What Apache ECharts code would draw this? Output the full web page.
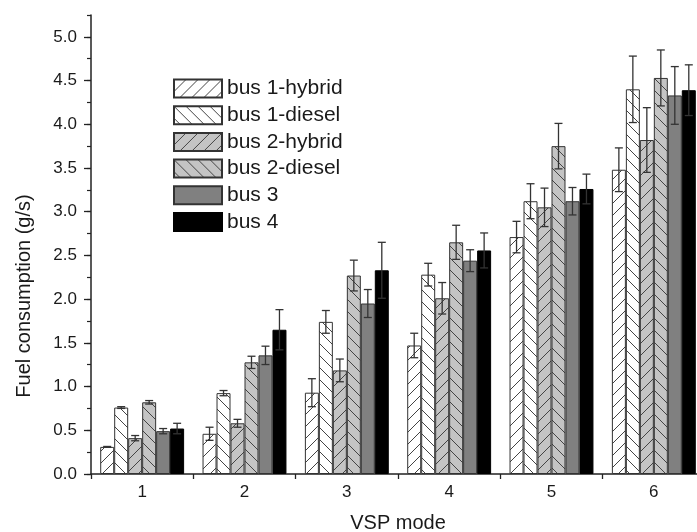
<!DOCTYPE html>
<html>
<head>
<meta charset="utf-8">
<script src="https://cdn.jsdelivr.net/npm/echarts@6/dist/echarts.min.js"></script>
<style>
  html, body { margin: 0; padding: 0; background: #fff; }
  #chart { width: 697px; height: 532px; }
</style>
</head>
<body>
<div id="chart"></div>
<script>
// 数据
var modes = ['1', '2', '3', '4', '5', '6'];
var seriesNames = ['bus 1-hybrid', 'bus 1-diesel', 'bus 2-hybrid', 'bus 2-diesel', 'bus 3', 'bus 4'];

var bus1Hybrid = [0.31, 0.46, 0.93, 1.47, 2.71, 3.48];
var bus1Diesel = [0.76, 0.925, 1.74, 2.28, 3.12, 4.40];
var bus2Hybrid = [0.41, 0.58, 1.185, 2.01, 3.05, 3.82];
var bus2Diesel = [0.82, 1.277, 2.27, 2.65, 3.75, 4.53];
var bus3 = [0.49, 1.357, 1.95, 2.44, 3.12, 4.33];
var bus4 = [0.52, 1.65, 2.33, 2.557, 3.26, 4.39];

var bus1HybridErr = [0.005, 0.075, 0.16, 0.14, 0.18, 0.25];
var bus1DieselErr = [0.01, 0.03, 0.13, 0.13, 0.2, 0.38];
var bus2HybridErr = [0.03, 0.045, 0.13, 0.18, 0.22, 0.37];
var bus2DieselErr = [0.02, 0.07, 0.176, 0.195, 0.26, 0.32];
var bus3Err = [0.03, 0.105, 0.16, 0.125, 0.157, 0.33];
var bus4Err = [0.06, 0.23, 0.32, 0.2, 0.17, 0.29];

var yTicks = [0, 0.5, 1, 1.5, 2, 2.5, 3, 3.5, 4, 4.5, 5];

var FONT = '"Liberation Sans", Arial, Helvetica, sans-serif';
var GAP = 0.18;

/**
 * [生成斜线填充图案]
 * @param bg  背景色
 * @param dir '/' 或 '\'
 */
function hatch(bg, dir) {
    var s = 12;
    var c = document.createElement('canvas');
    c.width = s;
    c.height = s;
    var g = c.getContext('2d');
    g.fillStyle = bg;
    g.fillRect(0, 0, s, s);
    g.strokeStyle = '#444';
    g.lineWidth = 1;
    g.beginPath();
    [-s, 0, s].forEach(function (k) {
        if (dir === '/') {
            g.moveTo(k, s);
            g.lineTo(k + s, 0);
        } else {
            g.moveTo(k, 0);
            g.lineTo(k + s, s);
        }
    });
    g.stroke();
    return { image: c, repeat: 'repeat' };
}

var values = [bus1Hybrid, bus1Diesel, bus2Hybrid, bus2Diesel, bus3, bus4];
var errors = [bus1HybridErr, bus1DieselErr, bus2HybridErr, bus2DieselErr, bus3Err, bus4Err];
var fills = [
    hatch('#ffffff', '/'),
    hatch('#ffffff', '\\'),
    hatch('#c4c4c4', '/'),
    hatch('#c4c4c4', '\\'),
    '#808080',
    '#000000'
];

var barSeries = seriesNames.map(function (name, i) {
    return {
        name: name,
        type: 'bar',
        data: values[i],
        barGap: 0,
        barCategoryGap: (GAP * 100) + '%',
        itemStyle: {
            color: fills[i],
            borderColor: i === 5 ? '#000' : '#333',
            borderWidth: 1
        },
        z: 2
    };
});

// 误差线数据
var errData = [];
for (var k = 0; k < values.length; k++) {
    for (var c = 0; c < modes.length; c++) {
        errData.push([c, k, values[k][c], errors[k][c]]);
    }
}

function renderErr(params, api) {
    var cat = api.value(0), k = api.value(1), v = api.value(2), e = api.value(3);
    var band = api.size([1, 0])[0];
    var bw = band * (1 - GAP) / 6;
    var x = api.coord([cat, 0])[0] + (k - 2.5) * bw;
    var yHi = api.coord([cat, v + e])[1];
    var yLo = api.coord([cat, v - e])[1];
    var hw = 4;
    var st = { stroke: '#333', lineWidth: 1.3 };
    return {
        type: 'group',
        children: [
            { type: 'line', shape: { x1: x, y1: yHi, x2: x, y2: yLo }, style: st },
            { type: 'line', shape: { x1: x - hw, y1: yHi, x2: x + hw, y2: yHi }, style: st },
            { type: 'line', shape: { x1: x - hw, y1: yLo, x2: x + hw, y2: yLo }, style: st }
        ]
    };
}

var myChart = echarts.init(document.getElementById('chart'));

var option = {
    backgroundColor: '#fff',
    animation: false,
    textStyle: { fontFamily: FONT, color: '#1a1a1a' },
    grid: { left: 91, top: 15, bottom: 58, right: -8, containLabel: false, outerBoundsMode: 'none' },
    legend: {
        data: seriesNames,
        orient: 'vertical',
        left: 173,
        top: 78,
        padding: 0,
        icon: 'rect',
        itemWidth: 48,
        itemHeight: 18,
        itemGap: 5.7,
        textStyle: { fontFamily: FONT, fontSize: 21, color: '#1a1a1a' }
    },
    xAxis: {
        type: 'category',
        data: modes,
        name: 'VSP mode',
        nameLocation: 'middle',
        nameGap: 39,
        nameTextStyle: { fontFamily: FONT, fontSize: 20, color: '#1a1a1a' },
        axisLine: { lineStyle: { color: '#222', width: 1.5 } },
        axisTick: { show: true, length: 5, lineStyle: { color: '#222', width: 1.3 } },
        axisLabel: { fontFamily: FONT, fontSize: 17, color: '#1a1a1a', margin: 10 },
        splitLine: { show: false }
    },
    yAxis: [
        {
            type: 'value',
            min: 0,
            max: 5.25,
            interval: 0.5,
            axisLine: { show: true, lineStyle: { color: '#222', width: 1.5 } },
            axisTick: { show: true, length: 7, customValues: yTicks, lineStyle: { color: '#222', width: 1.3 } },
            axisLabel: {
                fontFamily: FONT, fontSize: 17, color: '#1a1a1a', margin: 14,
                customValues: yTicks,
                formatter: function (v) { return v.toFixed(1); }
            },
            splitLine: { show: false }
        },
        {
            type: 'value',
            min: 0,
            max: 5.25,
            interval: 0.25,
            position: 'left',
            axisLine: { show: false },
            axisTick: { show: true, length: 4, lineStyle: { color: '#222', width: 1.2 } },
            axisLabel: { show: false },
            splitLine: { show: false }
        }
    ],
    graphic: [{
        type: 'text',
        x: 24,
        y: 296,
        rotation: Math.PI / 2,
        style: {
            text: 'Fuel consumption (g/s)',
            font: '20px ' + FONT,
            fill: '#1a1a1a',
            align: 'center',
            verticalAlign: 'middle',
            textAlign: 'center',
            textVerticalAlign: 'middle'
        }
    }],
    series: barSeries.concat([{
        type: 'custom',
        renderItem: renderErr,
        data: errData,
        encode: { x: 0, y: 2 },
        z: 5,
        silent: true
    }])
};

myChart.setOption(option);
</script>
</body>
</html>
